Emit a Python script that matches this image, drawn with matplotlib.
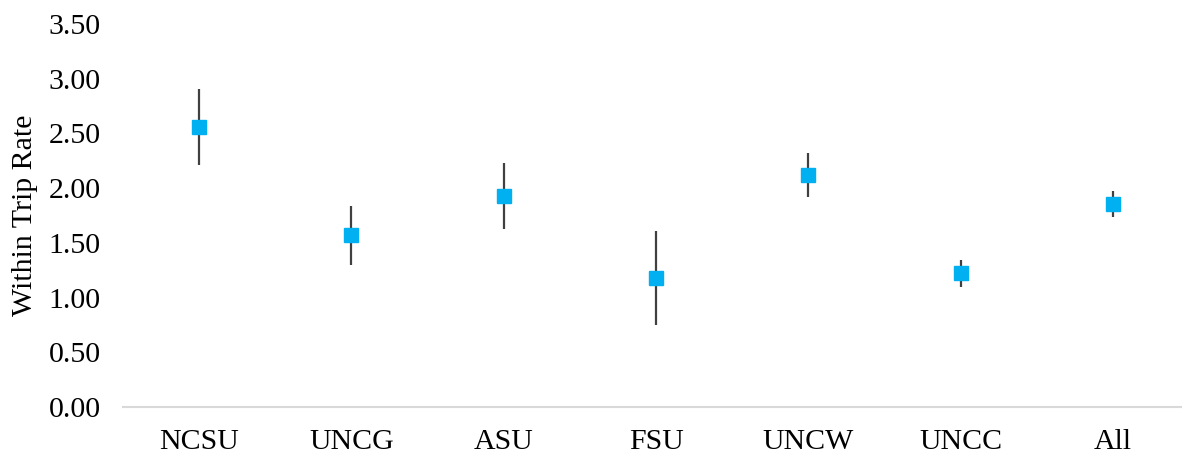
import matplotlib
matplotlib.use("Agg")
from matplotlib import pyplot as plt
import numpy as np

plt.rcParams["font.family"] = ["Liberation Serif", "DejaVu Serif"]

# data
campuses = ["NCSU", "UNCG", "ASU", "FSU", "UNCW", "UNCC", "All"]
rate = [2.56, 1.57, 1.93, 1.18, 2.12, 1.22, 1.855]
err = [0.35, 0.27, 0.30, 0.43, 0.20, 0.125, 0.12]
yticks = [0.0, 0.5, 1.0, 1.5, 2.0, 2.5, 3.0, 3.5]

fig = plt.figure(figsize=(11.82, 4.54), dpi=100)
ax = fig.add_axes([123 / 1182, 47 / 454, 1066 / 1182, 383 / 454])

x = np.arange(len(campuses))
ax.errorbar(
    x,
    rate,
    yerr=err,
    fmt="s",
    color="#00B0F0",
    ecolor="#404040",
    elinewidth=1.6,
    capsize=0,
    markersize=10.5,
    zorder=3,
)

ax.set_xlim(-0.5, len(campuses) - 0.5)
ax.set_ylim(0, 3.5)
ax.set_xticks(x)
ax.set_xticklabels(campuses, fontsize=21.5)
ax.set_yticks(yticks)
ax.set_yticklabels([f"{v:.2f}" for v in yticks], fontsize=21.5)
ax.set_ylabel("Within Trip Rate", fontsize=21.5, labelpad=8)

for side in ["top", "right", "left"]:
    ax.spines[side].set_visible(False)
ax.spines["bottom"].set_color("#D9D9D9")
ax.spines["bottom"].set_linewidth(1.5)
ax.tick_params(axis="x", length=0, pad=16)
ax.tick_params(axis="y", length=0, pad=16)

fig.savefig("out.png", dpi=100)
